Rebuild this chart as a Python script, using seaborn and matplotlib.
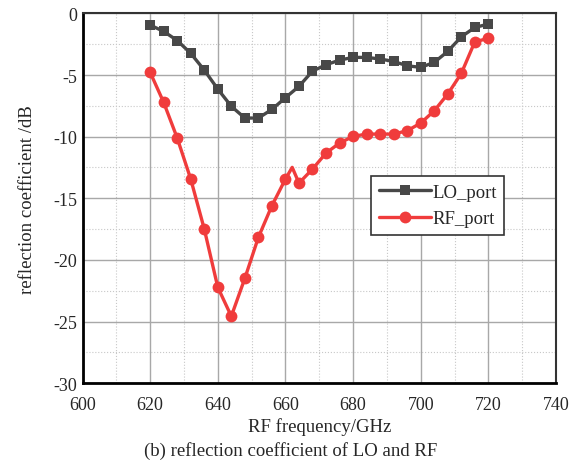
import matplotlib
matplotlib.use('Agg')
import matplotlib.pyplot as plt
import seaborn as sns
import numpy as np
from matplotlib.ticker import MultipleLocator

# LO port reflection, every 4 GHz
lo_freq = [620, 624, 628, 632, 636, 640, 644, 648, 652, 656, 660, 664, 668,
           672, 676, 680, 684, 688, 692, 696, 700, 704, 708, 712, 716, 720]
lo_s11 = [-0.95, -1.46, -2.2, -3.24, -4.6, -6.14, -7.54, -8.49, -8.49, -7.79,
          -6.84, -5.92, -4.68, -4.17, -3.79, -3.57, -3.57, -3.7, -3.9, -4.25,
          -4.38, -3.97, -3.08, -1.9, -1.14, -0.87]

# RF port reflection (extra unmarked point at 662 GHz)
rf_freq = [620, 624, 628, 632, 636, 640, 644, 648, 652, 656, 660, 662, 664,
           668, 672, 676, 680, 684, 688, 692, 696, 700, 704, 708, 712, 716, 720]
rf_s11 = [-4.78, -7.22, -10.11, -13.44, -17.49, -22.22, -24.57, -21.49, -18.17,
          -15.6, -13.44, -12.49, -13.77, -12.63, -11.33, -10.52, -9.98, -9.79,
          -9.79, -9.79, -9.52, -8.9, -7.9, -6.54, -4.87, -2.3, -2.03]
rf_marked = [i for i, f in enumerate(rf_freq) if f != 662]

sns.set_style('white')
plt.rcParams['font.family'] = ['Liberation Serif', 'DejaVu Serif']
plt.rcParams['axes.unicode_minus'] = False

fig = plt.figure(figsize=(5.81, 4.64), dpi=100)
ax = fig.add_axes([0.142, 0.172, 0.815, 0.797])

sns.lineplot(x=lo_freq, y=lo_s11, ax=ax, color='#484848', linewidth=2.4,
             marker='s', markersize=7.5, markeredgewidth=0, label='LO_port')
sns.lineplot(x=rf_freq, y=rf_s11, ax=ax, color='#f03c3c', linewidth=2.4,
             marker='o', markersize=8.5, markeredgewidth=0, markevery=rf_marked,
             label='RF_port', sort=False)

ax.set_xlim(600, 740)
ax.set_ylim(-30, 0)
ax.xaxis.set_major_locator(MultipleLocator(20))
ax.xaxis.set_minor_locator(MultipleLocator(10))
ax.yaxis.set_major_locator(MultipleLocator(5))
ax.yaxis.set_minor_locator(MultipleLocator(2.5))
ax.grid(which='major', color='#a8a8a8', linewidth=1.0, linestyle='-')
ax.grid(which='minor', color='#c8c8c8', linewidth=0.8, linestyle=':')
ax.set_axisbelow(True)
ax.tick_params(which='both', direction='out', labelsize=13, color='black')
ax.tick_params(axis='x', which='major', length=0, pad=9)
ax.tick_params(axis='y', which='major', length=0, pad=4)
ax.tick_params(axis='x', which='minor', length=2.5, width=1)
ax.tick_params(axis='y', which='minor', length=0)

for side in ['left', 'bottom']:
    ax.spines[side].set_color('black')
    ax.spines[side].set_linewidth(2)
for side in ['top', 'right']:
    ax.spines[side].set_color('#333333')
    ax.spines[side].set_linewidth(1.5)

ax.set_xlabel('RF frequency/GHz', fontsize=13.5, labelpad=3)
ax.set_ylabel('reflection coefficient /dB', fontsize=13.5, labelpad=12)

leg = ax.legend(loc='upper left', bbox_to_anchor=(0.61, 0.56), fontsize=13.5,
                frameon=True, fancybox=False, framealpha=1, edgecolor='#333333',
                handlelength=2.8, handletextpad=0.05, borderpad=0.4,
                labelspacing=0.5, borderaxespad=0)
leg.get_frame().set_linewidth(1.2)

fig.text(0.5, 0.029, '(b) reflection coefficient of LO and RF', ha='center',
         va='center', fontsize=13.5)

fig.savefig('out.png', dpi=100)
